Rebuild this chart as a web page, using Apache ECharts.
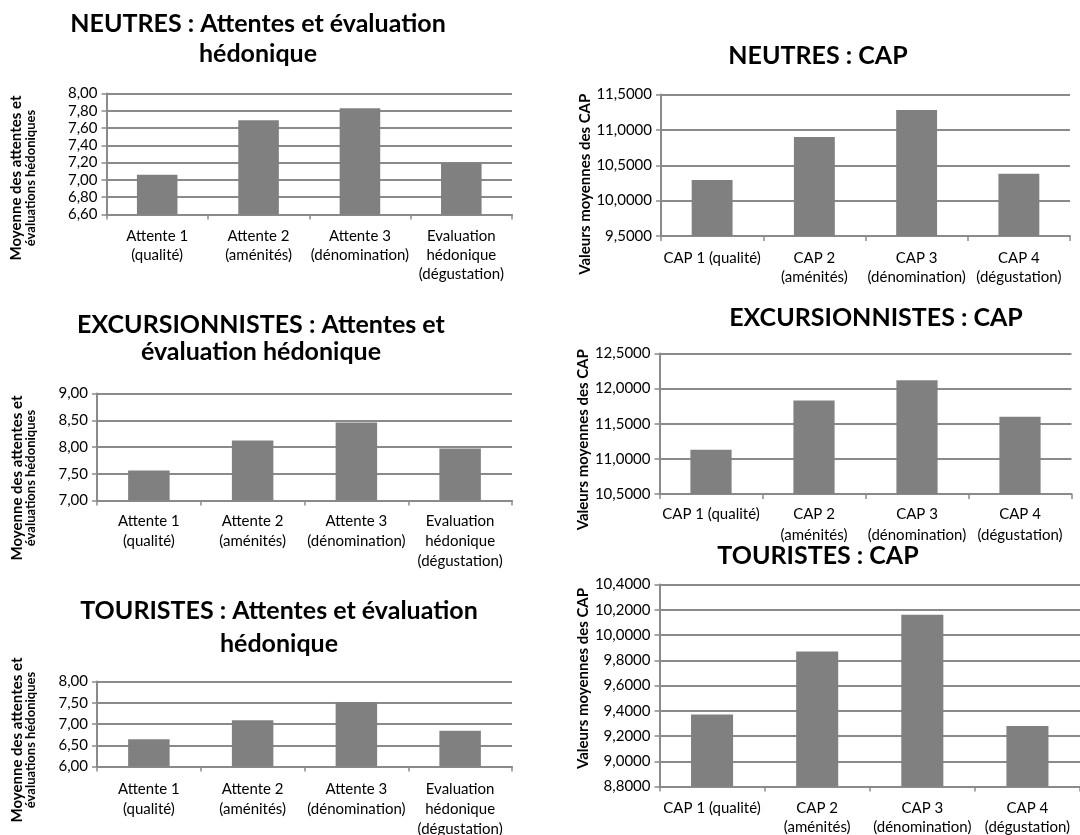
<!DOCTYPE html>
<html lang="fr">
<head>
<meta charset="utf-8">
<title>Attentes, évaluation hédonique et CAP</title>
<script src="https://cdn.jsdelivr.net/npm/echarts@6/dist/echarts.min.js"></script>
<style>
  html, body { margin: 0; padding: 0; background: #ffffff; }
  #chart { width: 1080px; height: 835px; }
</style>
</head>
<body>
<div id="chart"></div>
<script>
// ---- Catégories ----
const attentesCategories = ['Attente 1\n(qualité)', 'Attente 2\n(aménités)', 'Attente 3\n(dénomination)', 'Evaluation\nhédonique\n(dégustation)'];
const capCategories = ['CAP 1 (qualité)', 'CAP 2\n(aménités)', 'CAP 3\n(dénomination)', 'CAP 4\n(dégustation)'];

// ---- Valeurs moyennes ----
const neutresAttentes = [7.06, 7.69, 7.83, 7.20];
const neutresCap = [10.29, 10.90, 11.28, 10.38];
const excursionnistesAttentes = [7.56, 8.12, 8.46, 7.97];
const excursionnistesCap = [11.13, 11.83, 12.12, 11.60];
const touristesAttentes = [6.64, 7.09, 7.52, 6.84];
const touristesCap = [9.37, 9.87, 10.16, 9.28];

// ---- Graduations des axes ----
const neutresAttentesTicks = ['6,60', '6,80', '7,00', '7,20', '7,40', '7,60', '7,80', '8,00'];
const neutresCapTicks = ['9,5000', '10,0000', '10,5000', '11,0000', '11,5000'];
const excursionnistesAttentesTicks = ['7,00', '7,50', '8,00', '8,50', '9,00'];
const excursionnistesCapTicks = ['10,5000', '11,0000', '11,5000', '12,0000', '12,5000'];
const touristesAttentesTicks = ['6,00', '6,50', '7,00', '7,50', '8,00'];
const touristesCapTicks = ['8,8000', '9,0000', '9,2000', '9,4000', '9,6000', '9,8000', '10,0000', '10,2000', '10,4000'];

// ---- Titres ----
const titreNeutresAttentes = 'NEUTRES : Attentes et évaluation\nhédonique';
const titreNeutresCap = 'NEUTRES : CAP';
const titreExcursionnistesAttentes = 'EXCURSIONNISTES : Attentes et\névaluation hédonique';
const titreExcursionnistesCap = 'EXCURSIONNISTES : CAP';
const titreTouristesAttentes = 'TOURISTES : Attentes et évaluation\nhédonique';
const titreTouristesCap = 'TOURISTES : CAP';

// ---- Titres des axes verticaux ----
const axeAttentes = ['Moyenne des attentes et', 'évaluations hédoniques'];
const axeCap = 'Valeurs moyennes des CAP';

const FONT = 'Lato';
const GRID_COLOR = '#8a8a8a';
const BAR_COLOR = '#808080';

function parseTick(s) { return parseFloat(s.replace(',', '.')); }
function decimalsOf(s) { const i = s.indexOf(','); return i < 0 ? 0 : s.length - i - 1; }

// Panel layout: plot area, title anchor, axis-name placement, label spacing
const panels = [
  { grid: { left: 106.5, top: 93.5, width: 405.5, height: 121 }, titleX: 258, titleTop: 9, titleLH: 30,
    title: titreNeutresAttentes, cats: attentesCategories, values: neutresAttentes, ticks: neutresAttentesTicks,
    kind: 'attentes', nameGap: 69, shift: 24, labelLH: 19, labelMargin: 12 },
  { grid: { left: 661, top: 94.5, width: 409, height: 141.5 }, titleX: 818, titleTop: 41, titleLH: 30,
    title: titreNeutresCap, cats: capCategories, values: neutresCap, ticks: neutresCapTicks,
    kind: 'cap', nameGap: 67, shift: 19, labelLH: 19, labelMargin: 13 },
  { grid: { left: 97, top: 393.5, width: 415, height: 107 }, titleX: 261, titleTop: 311, titleLH: 27,
    title: titreExcursionnistesAttentes, cats: attentesCategories, values: excursionnistesAttentes, ticks: excursionnistesAttentesTicks,
    kind: 'attentes', nameGap: 59, shift: 31, labelLH: 20, labelMargin: 11 },
  { grid: { left: 659.5, top: 353.5, width: 412, height: 140.5 }, titleX: 876, titleTop: 303, titleLH: 30,
    title: titreExcursionnistesCap, cats: capCategories, values: excursionnistesCap, ticks: excursionnistesCapTicks,
    kind: 'cap', nameGap: 65, shift: 16, labelLH: 21, labelMargin: 10 },
  { grid: { left: 97, top: 681.5, width: 415, height: 85 }, titleX: 279, titleTop: 594, titleLH: 33,
    title: titreTouristesAttentes, cats: attentesCategories, values: touristesAttentes, ticks: touristesAttentesTicks,
    kind: 'attentes', nameGap: 59, shift: 16, labelLH: 20, labelMargin: 13 },
  { grid: { left: 659.5, top: 584.5, width: 420.5, height: 202 }, titleX: 818, titleTop: 541, titleLH: 30,
    title: titreTouristesCap, cats: capCategories, values: touristesCap, ticks: touristesCapTicks,
    kind: 'cap', nameGap: 65, shift: -7, labelLH: 19, labelMargin: 12 }
];

const option = {
  animation: false,
  backgroundColor: '#ffffff',
  textStyle: { fontFamily: FONT },
  title: [], grid: [], xAxis: [], yAxis: [], series: []
};

panels.forEach((p, i) => {
  const tickVals = p.ticks.map(parseTick);
  const dec = decimalsOf(p.ticks[0]);
  const min = tickVals[0];
  const max = tickVals[tickVals.length - 1];
  const interval = Math.round((tickVals[1] - tickVals[0]) * 1e6) / 1e6;
  // shift > 0 moves the rotated axis name downwards, < 0 upwards
  const pad = p.shift >= 0 ? [0, 2 * p.shift, 0, 0] : [0, 0, 0, -2 * p.shift];

  option.title.push({
    text: p.title,
    left: p.titleX,
    top: p.titleTop,
    textAlign: 'center',
    padding: 0,
    textStyle: { fontFamily: FONT, fontWeight: 'bold', fontSize: 25, lineHeight: p.titleLH, color: '#000000' }
  });

  option.grid.push(Object.assign({ containLabel: false, outerBoundsMode: 'none' }, p.grid));

  option.xAxis.push({
    type: 'category',
    gridIndex: i,
    data: p.cats,
    boundaryGap: true,
    axisLine: { show: true, onZero: false, lineStyle: { color: GRID_COLOR, width: 2 } },
    axisTick: { show: true, length: 5, alignWithLabel: false, lineStyle: { color: GRID_COLOR, width: 1.5 } },
    axisLabel: { interval: 0, fontFamily: FONT, fontSize: 15, lineHeight: p.labelLH, margin: p.labelMargin, color: '#000000' },
    splitLine: { show: false }
  });

  const yName = p.kind === 'attentes'
    ? '{a|' + axeAttentes[0] + '}\n{b|' + axeAttentes[1] + '}'
    : axeCap;

  option.yAxis.push({
    type: 'value',
    gridIndex: i,
    min: min,
    max: max,
    interval: interval,
    name: yName,
    nameLocation: 'middle',
    nameRotate: 90,
    nameGap: p.nameGap,
    nameTextStyle: p.kind === 'attentes'
      ? { fontFamily: FONT, color: '#000000', padding: pad,
          rich: {
            a: { fontFamily: FONT, fontWeight: 'bold', fontSize: 15, lineHeight: 14, color: '#000000' },
            b: { fontFamily: FONT, fontWeight: 'bold', fontSize: 13, lineHeight: 14, color: '#000000' }
          } }
      : { fontFamily: FONT, fontWeight: 'bold', fontSize: 15, color: '#000000', padding: pad },
    axisLine: { show: true, lineStyle: { color: GRID_COLOR, width: 2 } },
    axisTick: { show: true, length: 5, lineStyle: { color: GRID_COLOR, width: 1.5 } },
    axisLabel: {
      fontFamily: FONT, fontSize: 15, color: '#000000', margin: 9,
      formatter: v => v.toFixed(dec).replace('.', ',')
    },
    splitLine: { show: true, lineStyle: { color: GRID_COLOR, width: 2 } }
  });

  option.series.push({
    type: 'bar',
    xAxisIndex: i,
    yAxisIndex: i,
    data: p.values,
    barWidth: '40%',
    itemStyle: { color: BAR_COLOR },
    silent: true
  });
});

const chart = echarts.init(document.getElementById('chart'), null, { renderer: 'canvas' });
chart.setOption(option);
</script>
</body>
</html>
